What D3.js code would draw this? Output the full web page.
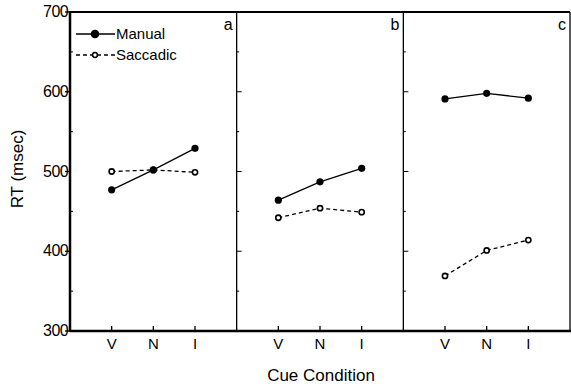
<!DOCTYPE html>
<html>
<head>
<meta charset="utf-8">
<script src="https://cdn.jsdelivr.net/npm/d3@7"></script>
<style>
  body { margin: 0; background: #fff; }
  text { font-family: "Liberation Sans", Arial, sans-serif; fill: #000; }
</style>
</head>
<body>
<script>
var panels = ['a', 'b', 'c'];
var conditions = ['V', 'N', 'I'];
var manual = [[477, 502, 529], [464, 487, 504], [591, 598, 592]];
var saccadic = [[500, 502, 499], [442, 454, 449], [369, 401, 414]];
var yTicks = [300, 400, 500, 600, 700];
var yMinor = [350, 450, 550, 650];

var w = 571, h = 384;
var m = { left: 70, right: 570, top: 12, bottom: 331 };

var svg = d3.select('body').append('svg')
  .attr('width', w)
  .attr('height', h);

var y = d3.scaleLinear().domain([300, 700]).range([m.bottom, m.top]);
var px = d3.scaleBand().domain(panels).range([m.left, m.right]);
var x = d3.scalePoint().domain(conditions).range([0, px.bandwidth()]).padding(1);

// panels
panels.forEach(function (p, i) {
  var g = svg.append('g').attr('transform', 'translate(' + px(p) + ',0)');

  // bottom ticks pointing up
  g.selectAll('.xt').data(conditions).enter().append('line')
    .attr('x1', function (d) { return x(d); })
    .attr('x2', function (d) { return x(d); })
    .attr('y1', m.bottom).attr('y2', m.bottom - 5)
    .attr('stroke', '#000').attr('stroke-width', 1.3);

  g.selectAll('.xl').data(conditions).enter().append('text')
    .attr('x', function (d) { return x(d); })
    .attr('y', m.bottom + 18)
    .attr('text-anchor', 'middle')
    .attr('font-size', '15px')
    .text(function (d) { return d; });

  // divider ticks pointing into the panel
  if (i > 0) {
    g.selectAll('.yt').data(yTicks.slice(1, -1)).enter().append('line')
      .attr('x1', 0).attr('x2', 5)
      .attr('y1', function (d) { return y(d); })
      .attr('y2', function (d) { return y(d); })
      .attr('stroke', '#000').attr('stroke-width', 1);
    g.selectAll('.ym').data(yMinor).enter().append('line')
      .attr('x1', 0).attr('x2', 2.5)
      .attr('y1', function (d) { return y(d); })
      .attr('y2', function (d) { return y(d); })
      .attr('stroke', '#000').attr('stroke-width', 1);
    g.append('line')
      .attr('x1', 0).attr('x2', 0).attr('y1', m.top).attr('y2', m.bottom)
      .attr('stroke', '#000').attr('stroke-width', 1.3);
  }

  g.append('text')
    .attr('x', px.bandwidth() - 4)
    .attr('y', m.top + 18)
    .attr('text-anchor', 'end')
    .attr('font-size', '16px')
    .text(p);

  var line = d3.line()
    .x(function (d, j) { return x(conditions[j]); })
    .y(function (d) { return y(d); });

  g.append('path').datum(saccadic[i])
    .attr('d', line)
    .attr('fill', 'none').attr('stroke', '#000')
    .attr('stroke-width', 1.3).attr('stroke-dasharray', '4,3');
  g.append('path').datum(manual[i])
    .attr('d', line)
    .attr('fill', 'none').attr('stroke', '#000').attr('stroke-width', 1.3);

  g.selectAll('.ms').data(saccadic[i]).enter().append('circle')
    .attr('cx', function (d, j) { return x(conditions[j]); })
    .attr('cy', function (d) { return y(d); })
    .attr('r', 2.6)
    .attr('fill', '#fff').attr('stroke', '#000').attr('stroke-width', 1.6);
  g.selectAll('.mm').data(manual[i]).enter().append('circle')
    .attr('cx', function (d, j) { return x(conditions[j]); })
    .attr('cy', function (d) { return y(d); })
    .attr('r', 3.6)
    .attr('fill', '#000');
});

// left axis: major ticks out, minor ticks in
svg.selectAll('.lt').data(yTicks).enter().append('line')
  .attr('x1', m.left - 5).attr('x2', m.left)
  .attr('y1', function (d) { return y(d); })
  .attr('y2', function (d) { return y(d); })
  .attr('stroke', '#000').attr('stroke-width', 1.3);
svg.selectAll('.lm').data(yMinor).enter().append('line')
  .attr('x1', m.left).attr('x2', m.left + 3)
  .attr('y1', function (d) { return y(d); })
  .attr('y2', function (d) { return y(d); })
  .attr('stroke', '#000').attr('stroke-width', 1);
svg.selectAll('.ll').data(yTicks).enter().append('text')
  .attr('x', m.left - 2)
  .attr('y', function (d) { return y(d) + 5; })
  .attr('text-anchor', 'end')
  .attr('font-size', '16px')
  .attr('letter-spacing', '-0.6px')
  .text(function (d) { return d; });

// frame
svg.append('line').attr('x1', m.left).attr('x2', m.left).attr('y1', m.top - 1).attr('y2', m.bottom + 1)
  .attr('stroke', '#000').attr('stroke-width', 2.5);
svg.append('line').attr('x1', m.left).attr('x2', m.right).attr('y1', m.top).attr('y2', m.top)
  .attr('stroke', '#000').attr('stroke-width', 2.2);
svg.append('line').attr('x1', m.left).attr('x2', m.right + 1).attr('y1', m.bottom).attr('y2', m.bottom)
  .attr('stroke', '#000').attr('stroke-width', 2.5);
svg.append('line').attr('x1', m.right).attr('x2', m.right).attr('y1', m.top).attr('y2', m.bottom)
  .attr('stroke', '#000').attr('stroke-width', 1.3);

// legend
var legend = [
  { name: 'Manual', dash: null, fill: '#000', r: 3.6, ly: 34 },
  { name: 'Saccadic', dash: '4,3', fill: '#fff', r: 2.4, ly: 55 }
];
legend.forEach(function (l) {
  svg.append('line')
    .attr('x1', m.left + 6).attr('x2', m.left + 45)
    .attr('y1', l.ly).attr('y2', l.ly)
    .attr('stroke', '#000').attr('stroke-width', 1.3)
    .attr('stroke-dasharray', l.dash);
  svg.append('circle')
    .attr('cx', m.left + 25).attr('cy', l.ly).attr('r', l.r)
    .attr('fill', l.fill).attr('stroke', '#000').attr('stroke-width', 1.5);
  svg.append('text')
    .attr('x', m.left + 46).attr('y', l.ly + 5)
    .attr('font-size', '15px')
    .text(l.name);
});

// axis titles
svg.append('text')
  .attr('x', 321).attr('y', 381)
  .attr('text-anchor', 'middle')
  .attr('font-size', '17px')
  .text('Cue Condition');
svg.append('text')
  .attr('transform', 'translate(23,169) rotate(-90)')
  .attr('text-anchor', 'middle')
  .attr('font-size', '17px')
  .text('RT (msec)');
</script>
</body>
</html>
